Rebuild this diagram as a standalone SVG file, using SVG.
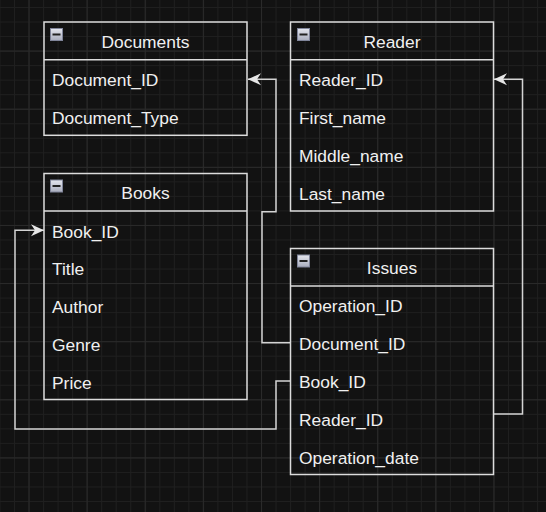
<svg xmlns="http://www.w3.org/2000/svg" width="546" height="512" viewBox="0 0 546 512">
<defs>
<pattern id="minor" patternUnits="userSpaceOnUse" x="14" y="7" width="14.53" height="14.53">
<path d="M0.5 0V14.53M0 0.5H14.53" fill="none" stroke="#1f1f1f" stroke-width="1"/>
</pattern>
<pattern id="major" patternUnits="userSpaceOnUse" x="28.5" y="50.6" width="58.12" height="58.12">
<path d="M0.5 0V58.12M0 0.5H58.12" fill="none" stroke="#2a2a2a" stroke-width="1"/>
</pattern>
<linearGradient id="ig" x1="0" y1="0" x2="0" y2="1">
<stop offset="0" stop-color="#e4e6ee"/>
<stop offset="1" stop-color="#a9adbd"/>
</linearGradient>
<marker id="arr" markerUnits="userSpaceOnUse" markerWidth="16" markerHeight="16" viewBox="0 0 16 16" refX="15" refY="8" orient="auto">
<path d="M15 8L2 2L6 8L2 14Z" fill="#e6e6e6"/>
</marker>
<g id="icon">
<rect x="0.5" y="0.5" width="12" height="12" fill="url(#ig)" stroke="#80859a" stroke-width="1"/>
<path d="M2.5 6.5H10.5" stroke="#222" stroke-width="2"/>
</g>
</defs>
<style>
.box{fill:none;stroke:#dcdcdc;stroke-width:1.5}
.t{font-family:"Liberation Sans",Arial,sans-serif;font-size:17.4px;fill:#f0f0f0}
.h{text-anchor:middle}
.c{fill:none;stroke:#d4d4d4;stroke-width:1.5}
</style>
<rect width="546" height="512" fill="#121212"/>
<rect width="546" height="512" fill="url(#minor)"/>
<rect width="546" height="512" fill="url(#major)"/>

<g id="connectors">
<path class="c" d="M290 342.7H262V211.7H276V79.3H248" marker-end="url(#arr)"/>
<path class="c" d="M290 381H276V429H15V230.2H44" marker-end="url(#arr)"/>
<path class="c" d="M493 414H522.5V79.3H494" marker-end="url(#arr)"/>
</g>

<g id="documents">
<rect class="box" x="44" y="22" width="203" height="113.3"/>
<path class="box" d="M44 59.8H247"/>
<use href="#icon" x="50" y="28"/>
<text class="t h" x="145.5" y="48">Documents</text>
<text class="t" x="52" y="86">Document_ID</text>
<text class="t" x="52" y="124">Document_Type</text>
</g>

<g id="reader">
<rect class="box" x="290.5" y="22" width="203" height="189"/>
<path class="box" d="M290.5 59.8H493.5"/>
<use href="#icon" x="297" y="28"/>
<text class="t h" x="392" y="48">Reader</text>
<text class="t" x="299" y="86">Reader_ID</text>
<text class="t" x="299" y="124">First_name</text>
<text class="t" x="299" y="161.8">Middle_name</text>
<text class="t" x="299" y="199.6">Last_name</text>
</g>

<g id="books">
<rect class="box" x="44" y="173.5" width="203" height="226"/>
<path class="box" d="M44 211H247"/>
<use href="#icon" x="50" y="179.5"/>
<text class="t h" x="145.5" y="199">Books</text>
<text class="t" x="52" y="237.5">Book_ID</text>
<text class="t" x="52" y="275.3">Title</text>
<text class="t" x="52" y="313.1">Author</text>
<text class="t" x="52" y="350.9">Genre</text>
<text class="t" x="52" y="388.7">Price</text>
</g>

<g id="issues">
<rect class="box" x="290.5" y="248.5" width="203" height="226"/>
<path class="box" d="M290.5 286H493.5"/>
<use href="#icon" x="297" y="254.5"/>
<text class="t h" x="392" y="274">Issues</text>
<text class="t" x="299" y="312.3">Operation_ID</text>
<text class="t" x="299" y="350.1">Document_ID</text>
<text class="t" x="299" y="387.9">Book_ID</text>
<text class="t" x="299" y="425.7">Reader_ID</text>
<text class="t" x="299" y="463.5">Operation_date</text>
</g>
</svg>
